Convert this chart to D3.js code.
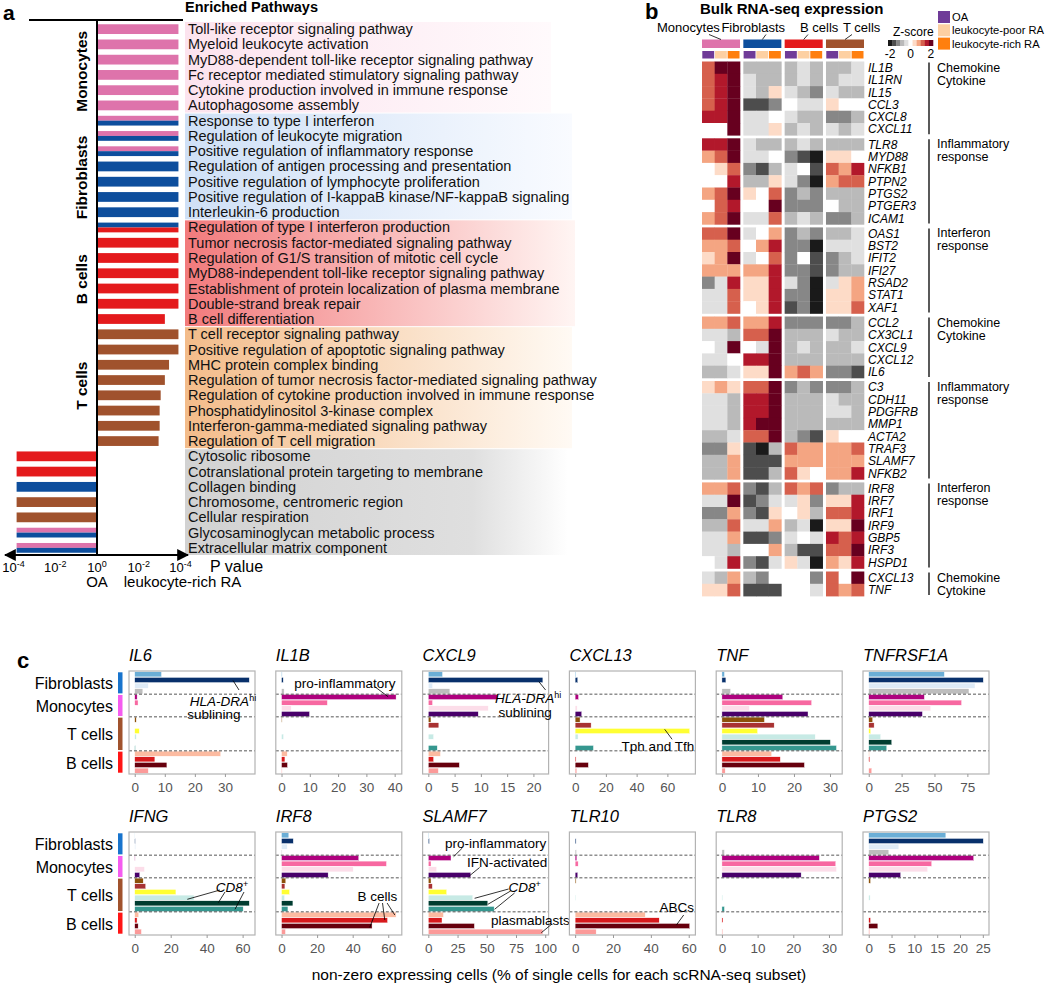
<!DOCTYPE html>
<html><head><meta charset="utf-8">
<script src="https://cdn.jsdelivr.net/npm/d3@7/dist/d3.min.js"></script>
<style>
body{margin:0;background:#fff;}
svg{display:block;font-family:"Liberation Sans",Arial,Helvetica,sans-serif;}
</style></head><body>
<svg id="fig" width="1050" height="984"></svg>
<script>
// ================= Panel a data =================
const pathwayLabels = [
 "Toll-like receptor signaling pathway","Myeloid leukocyte activation","MyD88-dependent toll-like receptor signaling pathway",
 "Fc receptor mediated stimulatory signaling pathway","Cytokine production involved in immune response","Autophagosome assembly",
 "Response to type I interferon","Regulation of leukocyte migration","Positive regulation of inflammatory response",
 "Regulation of antigen processing and presentation","Positive regulation of lymphocyte proliferation",
 "Positive regulation of I-kappaB kinase/NF-kappaB signaling","Interleukin-6 production",
 "Regulation of type I interferon production","Tumor necrosis factor-mediated signaling pathway",
 "Regulation of G1/S transition of mitotic cell cycle","MyD88-independent toll-like receptor signaling pathway",
 "Establishment of protein localization of plasma membrane","Double-strand break repair","B cell differentiation",
 "T cell receptor signaling pathway","Positive regulation of apoptotic signaling pathway","MHC protein complex binding",
 "Regulation of tumor necrosis factor-mediated signaling pathway","Regulation of cytokine production involved in immune response",
 "Phosphatidylinositol 3-kinase complex","Interferon-gamma-mediated signaling pathway","Regulation of T cell migration",
 "Cytosolic ribosome","Cotranslational protein targeting to membrane","Collagen binding","Chromosome, centromeric region",
 "Cellular respiration","Glycosaminoglycan metabolic process","Extracellular matrix component"];
const pathwayGroupNames = ["Monocytes","Fibroblasts","B cells","T cells","OA"];
const pathwayGroupSizes = [6,7,7,8,7];
// signed -log10(P): positive = enriched in leukocyte-rich RA, negative = enriched in OA
const pathwayLog10P = [3.9,3.9,3.9,3.9,3.9,3.9,
 3.9,3.9,3.9,3.9,3.9,3.9,3.9,
 3.9,3.9,3.9,3.9,3.9,3.9,3.25,
 3.9,3.9,3.45,3.25,3.05,3.0,3.0,2.95,
 -3.85,-3.85,-3.85,-3.85,-3.85,-3.85,-3.85];
const pathwayCellTypes = [["Monocytes"],["Monocytes"],["Monocytes"],["Monocytes"],["Monocytes"],["Monocytes"],
 ["Monocytes","Fibroblasts"],["Monocytes","Fibroblasts"],["Monocytes","Fibroblasts"],["Fibroblasts"],["Fibroblasts"],["Fibroblasts"],["Fibroblasts"],
 ["Fibroblasts","B cells"],["B cells"],["B cells"],["B cells"],["B cells"],["B cells"],["B cells"],
 ["T cells"],["T cells"],["T cells"],["T cells"],["T cells"],["T cells"],["T cells"],["T cells"],
 ["B cells"],["B cells"],["Fibroblasts"],["T cells"],["T cells"],["Monocytes","Fibroblasts"],["Monocytes","Fibroblasts"]];
const pValueTickExp = [-4,-2,0,2,4];
const pValueTickLabels = ["-4","-2","0","-2","-4"];

// ================= Panel b data =================
const bulkGroups = ["Monocytes","Fibroblasts","B cells","T cells"];
const bulkConditions = ["OA","leukocyte-poor RA","leukocyte-rich RA"];
const bulkGenes = ["IL1B","IL1RN","IL15","CCL3","CXCL8","CXCL11",
 "TLR8","MYD88","NFKB1","PTPN2","PTGS2","PTGER3","ICAM1",
 "OAS1","BST2","IFIT2","IFI27","RSAD2","STAT1","XAF1",
 "CCL2","CX3CL1","CXCL9","CXCL12","IL6",
 "C3","CDH11","PDGFRB","MMP1","ACTA2","TRAF3","SLAMF7","NFKB2",
 "IRF8","IRF7","IRF1","IRF9","GBP5","IRF3","HSPD1",
 "CXCL13","TNF"];
const bulkModuleNames = [["Chemokine","Cytokine"],["Inflammatory","response"],["Interferon","response"],["Chemokine","Cytokine"],["Inflammatory","response"],["Interferon","response"],["Chemokine","Cytokine"]];
const bulkModuleSizes = [6,7,7,5,8,7,2];
const bulkZ = [
 [1.2,2,2,-0.8,-0.8,-0.8,-0.8,-0.4,-0.8,-0.8,-0.8,-0.4],
 [1.2,1.6,2,-0.4,-0.8,-0.8,-0.8,-0.4,-0.8,-0.8,-0.4,-0.4],
 [1.2,1.6,2,-0.4,-0.8,0.4,-0.4,-0.8,-1.2,-0.4,-0.8,-0.8],
 [1.2,1.6,2,-1.6,-1.6,-1.2,0,-0.4,-0.4,0.4,0,0],
 [1.6,1.6,2,-0.4,-0.4,0,-0.4,-0.8,-0.8,-1.2,-1.2,-0.8],
 [0,0,2,-0.4,-0.4,0.4,-0.8,-0.4,-0.8,-0.4,-0.8,-0.4],
 [1.6,1.6,2,-0.4,-0.8,-0.8,-0.8,-0.4,-0.8,-0.8,-0.8,-0.8],
 [0.8,1.2,2,-0.4,-0.4,0,-1.2,-1.6,-2,0.4,0.4,0],
 [0,0.4,1.2,-1.2,-1.6,-0.8,-0.4,0,-1.6,1.2,0.8,1.6],
 [0,0,1.6,-0.8,-0.8,0.4,-0.4,-1.2,-2,0.8,1.2,1.2],
 [0.8,1.2,2,0.4,0,1.2,-1.2,-0.8,-1.2,-0.8,-0.8,-0.8],
 [0,1.2,1.6,0,0,2,-1.2,-1.2,-1.2,0,-0.8,-0.8],
 [0.8,1.2,2,-0.4,-0.4,1.2,-0.8,-0.4,-0.8,-1.2,-1.2,-0.8],
 [1.2,1.2,2,-0.4,0,0.8,-1.2,-0.8,-1.2,-0.8,-0.8,-0.4],
 [0.8,0.8,1.2,0,0.8,1.6,-1.2,-1.2,-2,-0.4,-0.4,-0.4],
 [0.4,0.8,2,-0.4,0,1.2,-1.2,0,-1.6,-1.2,-0.8,-0.4],
 [0.8,0.8,0.8,0.8,0.8,1.6,-1.2,-1.2,-1.6,-1.2,-0.8,-0.8],
 [-1.2,-0.4,1.6,0.4,0.4,1.6,-0.4,-1.2,-2,-0.4,0.4,0.8],
 [-0.4,-0.4,1.2,0.4,0.4,1.6,-1.2,-1.2,-2,0.4,0.4,0.8],
 [-0.4,-0.4,1.2,0,0.4,1.6,-1.6,-1.2,-2,0.4,0.4,1.2],
 [0.8,0.8,1.2,0.8,0.8,1.6,-1.2,-1.2,-1.2,-1.2,-1.2,-0.8],
 [-0.4,-0.4,-0.8,1.2,1.2,2,-0.8,-0.8,-0.8,-0.4,-0.8,-0.8],
 [0,-0.4,2,0,-0.4,2,-0.8,-0.4,-0.8,-0.8,-0.8,-0.4],
 [-0.4,-0.4,0,1.6,1.6,2,-0.8,-0.8,-0.8,-0.8,-0.8,-0.8],
 [-0.8,-0.8,-0.4,0.4,0.4,2,0.8,1.2,0.8,-1.2,-1.2,-1.6],
 [0.4,0.8,0.4,1.2,1.2,2,-1.2,-0.8,-1.2,-1.2,-1.2,-0.8],
 [-0.4,-0.4,-0.8,1.6,1.6,2,-0.8,-0.8,-0.8,-0.4,-0.8,-0.8],
 [-0.4,-0.4,-0.8,1.6,1.6,2,-0.8,-0.8,-0.8,-0.4,-0.4,-0.8],
 [-0.4,-0.4,-0.8,1.6,2,2,-0.8,-0.8,-0.8,-0.8,-0.8,-0.8],
 [-0.8,-0.8,-0.4,1.2,1.2,2,-0.8,-1.2,-1.6,0.4,0,0],
 [-1.2,-1.2,0.4,-1.6,-2,-0.8,1.2,0.8,0.8,0.8,0.8,1.2],
 [-0.8,-0.8,0.8,-1.6,-1.6,-1.6,0.8,0.8,0.8,0.8,0.8,0.8],
 [-0.8,-0.8,0.8,-1.6,-1.6,-0.8,1.2,0.4,0,0.8,0.8,1.6],
 [0.8,0.8,1.2,-1.2,-1.6,-0.8,1.2,0.8,1.2,-1.2,-0.8,-0.8],
 [-0.4,-0.4,2,-1.6,-1.2,-0.4,-0.4,0.4,-1.2,0.4,0.4,1.6],
 [-1.2,-1.2,0.8,-1.2,-1.6,0.4,0,0.4,-0.8,1.2,1.2,1.6],
 [-0.8,-0.8,1.2,-0.4,-0.4,0.8,-0.8,-0.4,-2,0.4,0.4,2],
 [-0.4,-0.4,0.8,-1.6,-1.6,-1.2,-0.4,0,-0.4,1.6,1.2,1.6],
 [-0.4,-0.4,-0.8,0,0,0.8,-0.8,-1.6,-1.6,1.2,1.2,2],
 [0,-0.4,1.6,-1.2,-1.6,-0.4,0.4,-0.4,-2,0.8,0.4,1.6],
 [-0.4,-0.8,0.8,-0.8,-1.2,0,0,0,-1.2,1.2,0,2],
 [0.4,0.4,1.2,-1.6,-1.6,-1.6,0,0,-0.4,1.2,0.8,1.2]];
const zTickValues = [-2,0,2];

// ================= Panel c data =================
const cSections = ["Fibroblasts","Monocytes","T cells","B cells"];
const cSectionSizes = [4,4,6,4];
const cGenes = ["IL6","IL1B","CXCL9","CXCL13","TNF","TNFRSF1A","IFNG","IRF8","SLAMF7","TLR10","TLR8","PTGS2"];
const pctIL6 =     [8.9,38.1,4.5,2.7, 0.8,1.1,0.1,0, 0.5,0,1.5,0.5,0,0.2, 28.6,6.7,10.7,4.5];
const pctIL1B =    [0.2,0.6,0,0.9, 40.5,16.2,3.4,9.9, 0.2,0,0,0.7,0,0, 2.0,1.2,2.1,0.2];
const pctCXCL9 =   [2.7,21.8,0.8,4.1, 13.2,0.8,11.4,9.5, 0.5,2.0,0,1.0,0,1.7, 2.3,1.0,5.9,1.9];
const pctCXCL13 =  [0.4,1.7,0,0, 2.2,0,1.3,4.3, 3.2,10.4,74.5,1.9,0,11.9, 0,0.6,8.6,1.1];
const pctTNF =     [0.7,1.1,0,2.4, 16.9,24.9,7.6,23.9, 11.8,14.5,9.9,25.9,30.1,31.8, 13.8,16.2,22.9,0.9];
const pctTNFRSF1A =[57.5,87.1,80.8,76.2, 42.3,70.6,47.1,40.8, 3.0,4.1,1.5,9.1,17.5,13.7, 0.5,0.8,0,2.3];
const pctIFNG =    [0.1,0.3,0.5,0, 0.2,0,5.4,2.8, 4.7,6.1,22.9,33,63.7,60.3, 2.2,1.3,1.9,3.7];
const pctIRF8 =    [4.1,6.6,3.2,0.3, 43.4,59.0,40.3,26.2, 2.4,1.9,4.5,1.7,6.4,3.6, 64.4,59.6,50.9,2.2];
const pctSLAMF7 =  [0.3,0.9,0,0, 19.4,2.3,7.1,36.3, 2.3,3.4,15.7,38,50.9,56.3, 12.9,11.7,39.4,98];
const pctTLR10 =   [0,0.5,0,0.7, 0.9,1.6,0,1.4, 0.5,0,0,0.3,0,0, 37,44.4,60.5,11.1];
const pctTLR8 =    [0,0,0,0.7, 27.3,31.9,32.1,22.2, 0,0,0,0.2,0,0.7, 0,0.3,0,0.2];
const pctPTGS2 =   [16.9,25.1,6.6,4.4, 23.0,13.8,12.9,7.0, 0.4,0,0,0.3,0,0, 0,0.4,2.0,0.2];
const cTickValues = [[0,10,20,30],[0,10,20,30,40],[0,5,10,15,20],[0,20,40,60],[0,10,20,30],[0,25,50,75],
 [0,20,40,60],[0,20,40,60],[0,25,50,75,100],[0,20,40,60],[0,10,20,30],[0,5,10,15,20,25]];
const cValues = {IL6:pctIL6,IL1B:pctIL1B,CXCL9:pctCXCL9,CXCL13:pctCXCL13,TNF:pctTNF,TNFRSF1A:pctTNFRSF1A,
 IFNG:pctIFNG,IRF8:pctIRF8,SLAMF7:pctSLAMF7,TLR10:pctTLR10,TLR8:pctTLR8,PTGS2:pctPTGS2};
const cAnnotations = [
 {gene:"IL6", texts:[{parts:[["HLA-DRA","it"],["hi","sup"]],x:94,y:35},{parts:[["sublining"]],x:85,y:48}], leaders:[[104,9.5,110,19]]},
 {gene:"IL1B", texts:[{parts:[["pro-inflammatory"]],x:69,y:16.5}], leaders:[[99,15.7,112.3,25.7]]},
 {gene:"CXCL9", texts:[{parts:[["HLA-DRA","it"],["hi","sup"]],x:105.5,y:32},{parts:[["sublining"]],x:102.5,y:45.5}], leaders:[[116.3,10.7,123,19]]},
 {gene:"CXCL13", texts:[{parts:[["Tph and Tfh"]],x:88.5,y:80}], leaders:[[95.3,58.3,102.7,68.3]]},
 {gene:"IFNG", texts:[{parts:[["CD8","it"],["+","sup"]],x:103,y:60}], leaders:[[91,58,58.3,67.3],[96,60,89.3,70.7],[115,60,106,77.3]]},
 {gene:"IRF8", texts:[{parts:[["B cells"]],x:101.5,y:69}], leaders:[[103.3,71,94,95.3],[106.7,71,109,88],[111.3,71,119,83]]},
 {gene:"SLAMF7", texts:[{parts:[["pro-inflammatory"]],x:73,y:16},{parts:[["IFN-activated"]],x:84.5,y:35},{parts:[["CD8","it"],["+","sup"]],x:102,y:60},{parts:[["plasmablasts"]],x:107.8,y:92.5}],
   leaders:[[39.7,16,31,24.7],[57,35.5,47,43.7],[86,57,52,66.3],[88,59,65.3,72.3],[92,61,72,77.3],[128.7,92.5,118.7,100.7]]},
 {gene:"TLR10", texts:[{parts:[["ABCs"]],x:107.3,y:79.5}], leaders:[[114.3,83,107,93]]}
];

// ================= styles =================
const cellTypeColor = {"Monocytes":"#de73ab","Fibroblasts":"#0d4e9d","B cells":"#e41a1c","T cells":"#a0522d"};
const conditionColor = ["#6f3b98","#fdd0a2","#ff7f0e"];
const cSubsetColors = ["#6baed6","#08306b","#deebf7","#bdbdbd","#ae017e","#f768a1","#fcdde9","#49006a",
 "#8c510a","#a83232","#ffff33","#c7eae5","#003c30","#35978f","#fcbba1","#d7191c","#67000d","#fb9a99"];
const cSectionColors = ["#1874cd","#f55cf0","#a0522d","#ff1414"];

const svg = d3.select("#fig");
const defs = svg.append("defs");

function panelLabel(t,x,y,fs){ svg.append("text").attr("x",x).attr("y",y).attr("font-size",fs).attr("font-weight","bold").text(t); }
panelLabel("a",3,20,21); panelLabel("b",645,19,22); panelLabel("c",17,668,22);

// ================= Panel a =================
(function(){
  const g = svg.append("g");
  const n = pathwayLabels.length;
  const aY = d3.scaleBand().domain(d3.range(n)).range([21.5,555.5]).paddingInner(0.36).paddingOuter(0.18);
  const aX = d3.scaleLinear().domain([-4.2,4.2]).range([9.3,184.7]);
  const step = aY.step(), bw = aY.bandwidth(), pad = (step-bw)/2;
  const starts = d3.cumsum([0,...pathwayGroupSizes]);
  const bgStyle = [
    {c0:"#fce3ee",c1:"#fffafc",right:551},
    {c0:"#cfe0f6",c1:"#f9fbff",right:572},
    {c0:"#f27a7c",c1:"#fff5f3",right:575},
    {c0:"#f3bc8a",c1:"#fffaf4",right:572},
    {c0:"#d2d2d2",c1:"#ffffff",right:568,mid:"#dfdfdf"}];
  pathwayGroupNames.forEach((name,gi)=>{
    const st = bgStyle[gi];
    const grad = defs.append("linearGradient").attr("id","bg"+gi).attr("x1","0%").attr("x2","100%");
    grad.append("stop").attr("offset","0%").attr("stop-color",st.c0);
    if(st.mid) grad.append("stop").attr("offset","75%").attr("stop-color",st.mid);
    grad.append("stop").attr("offset","100%").attr("stop-color",st.c1);
    const y0 = aY(starts[gi]) - pad, y1 = aY(starts[gi+1]-1) + bw + pad;
    g.append("rect").attr("x",185).attr("y",y0+0.5).attr("width",st.right-185).attr("height",y1-y0-1)
      .attr("fill",`url(#bg${gi})`);
  });
  pathwayLog10P.forEach((v,i)=>{
    const types = pathwayCellTypes[i];
    const h = bw/types.length;
    types.forEach((t,j)=>{
      g.append("rect").attr("x",Math.min(aX(0),aX(v))).attr("y",aY(i)+j*h)
        .attr("width",Math.abs(aX(v)-aX(0))).attr("height",h)
        .attr("fill",cellTypeColor[t]);
    });
  });
  g.selectAll("text.pw").data(pathwayLabels).join("text").attr("class","pw")
    .attr("x",188).attr("y",(d,i)=>aY(i)+bw/2+5).attr("font-size",14.5).attr("fill","#111").text(d=>d);
  const nudge = [4,11,6,-2];
  pathwayGroupNames.slice(0,4).forEach((name,gi)=>{
    const cy = (aY(starts[gi]) + aY(starts[gi+1]-1)+bw)/2 + nudge[gi];
    g.append("text").attr("transform",`translate(87,${cy}) rotate(-90)`).attr("text-anchor","middle")
      .attr("font-size",15.5).attr("font-weight","bold").text(name);
  });
  g.append("line").attr("x1",29).attr("x2",183).attr("y1",20).attr("y2",20).attr("stroke","#000").attr("stroke-width",2);
  g.append("line").attr("x1",aX(0)).attr("x2",aX(0)).attr("y1",21).attr("y2",556).attr("stroke","#000").attr("stroke-width",2);
  g.append("text").attr("x",185).attr("y",12).attr("font-size",14.5).attr("font-weight","bold").text("Enriched Pathways");
  const mk = defs.append("marker").attr("id","arr").attr("viewBox","0 0 10 10").attr("refX",9).attr("refY",5)
    .attr("markerWidth",6).attr("markerHeight",6).attr("orient","auto-start-reverse");
  mk.append("path").attr("d","M0,0 L10,5 L0,10 z").attr("fill","#000");
  g.append("line").attr("x1",5).attr("x2",188).attr("y1",555).attr("y2",555).attr("stroke","#000").attr("stroke-width",2)
    .attr("marker-start","url(#arr)").attr("marker-end","url(#arr)");
  pValueTickExp.forEach((e,i)=>{
    const t = g.append("text").attr("x",aX(e)).attr("y",572).attr("text-anchor","middle").attr("font-size",13);
    t.append("tspan").text("10");
    t.append("tspan").attr("font-size",9).attr("dy",-5.5).text(pValueTickLabels[i]);
  });
  g.append("text").attr("x",210).attr("y",572).attr("font-size",16).text("P value");
  g.append("text").attr("x",aX(0)).attr("y",587).attr("text-anchor","middle").attr("font-size",15).text("OA");
  g.append("text").attr("x",aX(4)+2).attr("y",587).attr("text-anchor","middle").attr("font-size",15).text("leukocyte-rich RA");
})();

// ================= Panel b =================
(function(){
  const g = svg.append("g");
  g.append("text").attr("x",700).attr("y",14).attr("font-size",15).attr("font-weight","bold").text("Bulk RNA-seq expression");
  const gx = d3.scaleBand().domain(bulkGroups).range([702,864]).paddingInner(0.08);
  const cx = d3.scaleBand().domain(d3.range(3)).range([0,gx.bandwidth()]);
  const color = d3.scaleQuantize().domain([-2.2,2.2]).range(d3.schemeRdGy[11].slice().reverse());
  const rowH = 12.3, gap = 3, top = 61.5;
  const moduleOf = [];
  bulkModuleSizes.forEach((s,mi)=>{ for(let k=0;k<s;k++) moduleOf.push(mi); });
  const rowY = d3.scaleBand().domain(d3.range(bulkGenes.length)).range([top, top+bulkGenes.length*rowH]);
  const yOf = i => rowY(i) + moduleOf[i]*gap;
  bulkZ.forEach((row,i)=>{
    row.forEach((z,j)=>{
      const grp = bulkGroups[Math.floor(j/3)], c = j%3;
      g.append("rect").attr("x",gx(grp)+cx(c)).attr("y",yOf(i)).attr("width",cx.bandwidth()+0.3).attr("height",rowH+0.3)
        .attr("fill",color(z));
    });
  });
  bulkGenes.forEach((gn,i)=>{
    g.append("text").attr("x",868).attr("y",yOf(i)+rowH/2+4.3).attr("font-size",12).attr("font-style","italic").text(gn);
  });
  let r0 = 0;
  bulkModuleSizes.forEach((s,mi)=>{
    const y0 = yOf(r0), y1 = yOf(r0+s-1)+rowH;
    g.append("line").attr("x1",929).attr("x2",929).attr("y1",y0+1).attr("y2",y1-1).attr("stroke","#000").attr("stroke-width",1.3);
    bulkModuleNames[mi].forEach((t,k)=>{
      g.append("text").attr("x",937).attr("y",y0+10+k*13).attr("font-size",12.5).text(t);
    });
    r0 += s;
  });
  bulkGroups.forEach((grp,gi)=>{
    g.append("rect").attr("x",gx(grp)).attr("y",39.5).attr("width",gx.bandwidth()).attr("height",8.5).attr("fill",cellTypeColor[grp]);
    d3.range(3).forEach(c=>{
      g.append("rect").attr("x",gx(grp)+cx(c)+0.3).attr("y",51).attr("width",cx.bandwidth()-0.8).attr("height",7.5).attr("fill",conditionColor[c]);
    });
  });
  const hdr = [{x:657,a:"start"},{x:785,a:"end"},{x:800,a:"start"},{x:843,a:"start"}];
  const lead = [[709,34.5],[766,34.5],[808,34.5],[852,34.5]];
  bulkGroups.forEach((grp,gi)=>{
    g.append("text").attr("x",hdr[gi].x).attr("y",32).attr("text-anchor",hdr[gi].a).attr("font-size",13).text(grp);
    g.append("line").attr("x1",lead[gi][0]).attr("y1",lead[gi][1]).attr("x2",gx(grp)+gx.bandwidth()/2).attr("y2",39.5)
      .attr("stroke","#000").attr("stroke-width",0.8);
  });
  g.append("text").attr("x",893).attr("y",36).attr("font-size",12).text("Z-score");
  const zs = d3.scaleLinear().domain([-2.2,2.2]).range([888,933]);
  color.range().forEach((col,k)=>{
    const [a,b] = color.invertExtent(col);
    g.append("rect").attr("x",zs(a)).attr("y",40).attr("width",zs(b)-zs(a)+0.3).attr("height",6).attr("fill",col);
  });
  zTickValues.forEach(v=>{
    g.append("text").attr("x",zs(v)).attr("y",58).attr("text-anchor","middle").attr("font-size",12).text(String(v));
  });
  bulkConditions.forEach((c,k)=>{
    g.append("rect").attr("x",938).attr("y",11+k*13.3).attr("width",12).attr("height",12).attr("fill",conditionColor[k]);
    g.append("text").attr("x",952).attr("y",21+k*13.3).attr("font-size",11.2).text(c);
  });
})();

// ================= Panel c =================
(function(){
  const g = svg.append("g");
  const W = 126, H = 103;
  const secStarts = d3.cumsum([0,...cSectionSizes]);
  [671,832].forEach(top=>{
    const ys = d3.scaleBand().domain(d3.range(18)).range([top+0.5,top+H-0.5]).paddingInner(0.1).paddingOuter(0.05);
    const st = ys.step(), pd = (st-ys.bandwidth())/2;
    cSections.forEach((s,si)=>{
      const y0 = ys(secStarts[si]) - pd, y1 = ys(secStarts[si+1]-1)+ys.bandwidth()+pd;
      g.append("rect").attr("x",118).attr("y",y0+0.8).attr("width",4.5).attr("height",y1-y0-1.6).attr("fill",cSectionColors[si]);
      g.append("text").attr("x",113).attr("y",(y0+y1)/2+6.5).attr("text-anchor","end").attr("font-size",16).text(s);
    });
  });
  cGenes.forEach((gene,k)=>{
    const col = k%6, row = Math.floor(k/6);
    const x0 = 129 + col*146.8, top = row ? 832 : 671;
    const vals = cValues[gene], mx = d3.max(vals);
    const xs = d3.scaleLinear().domain([-0.05*mx, 1.05*mx]).range([x0, x0+W]);
    const ys = d3.scaleBand().domain(d3.range(18)).range([top+0.5,top+H-0.5]).paddingInner(0.1).paddingOuter(0.05);
    const gp = g.append("g");
    gp.selectAll("rect.bar").data(vals).join("rect").attr("class","bar")
      .attr("x",xs(0)).attr("y",(d,i)=>ys(i)).attr("width",d=>Math.max(0,xs(d)-xs(0))).attr("height",ys.bandwidth())
      .attr("fill",(d,i)=>cSubsetColors[i]).attr("stroke","#fff").attr("stroke-width",0.4);
    secStarts.slice(1,4).forEach(s=>{
      const y = (ys(s-1)+ys.bandwidth()+ys(s))/2;
      gp.append("line").attr("x1",x0).attr("x2",x0+W).attr("y1",y).attr("y2",y).attr("stroke","#444")
        .attr("stroke-width",0.9).attr("stroke-dasharray","3,2");
    });
    gp.append("rect").attr("x",x0).attr("y",top).attr("width",W).attr("height",H).attr("fill","none")
      .attr("stroke","#b3b3b3").attr("stroke-width",1.2);
    gp.append("text").attr("x",x0).attr("y",top-10).attr("font-size",16.5).attr("font-style","italic").text(gene);
    const ax = gp.append("g").attr("transform",`translate(0,${top+H})`)
      .call(d3.axisBottom(xs).tickValues(cTickValues[k]).tickSize(3).tickPadding(5).tickFormat(d3.format("d")));
    ax.select(".domain").remove();
    ax.selectAll("line").attr("stroke","#999");
    ax.selectAll("text").attr("font-size",13.5).attr("fill","#555").attr("font-family",'"Liberation Sans",Arial,sans-serif');
    cAnnotations.filter(a=>a.gene===gene).forEach(a=>{
      a.leaders.forEach(l=>{
        gp.append("line").attr("x1",x0+l[0]).attr("y1",top+l[1]).attr("x2",x0+l[2]).attr("y2",top+l[3])
          .attr("stroke","#000").attr("stroke-width",0.8);
      });
      a.texts.forEach(t=>{
        const tx = gp.append("text").attr("x",x0+t.x).attr("y",top+t.y).attr("text-anchor","middle").attr("font-size",13.5);
        t.parts.forEach(p=>{
          const ts = tx.append("tspan").text(p[0]);
          if(p[1]==="it") ts.attr("font-style","italic");
          if(p[1]==="sup") ts.attr("font-size",9).attr("dy",-5.5);
        });
      });
    });
  });
  g.append("text").attr("x",559).attr("y",980).attr("text-anchor","middle").attr("font-size",15.5)
    .text("non-zero expressing cells (% of single cells for each scRNA-seq subset)");
})();
</script>
</body></html>
